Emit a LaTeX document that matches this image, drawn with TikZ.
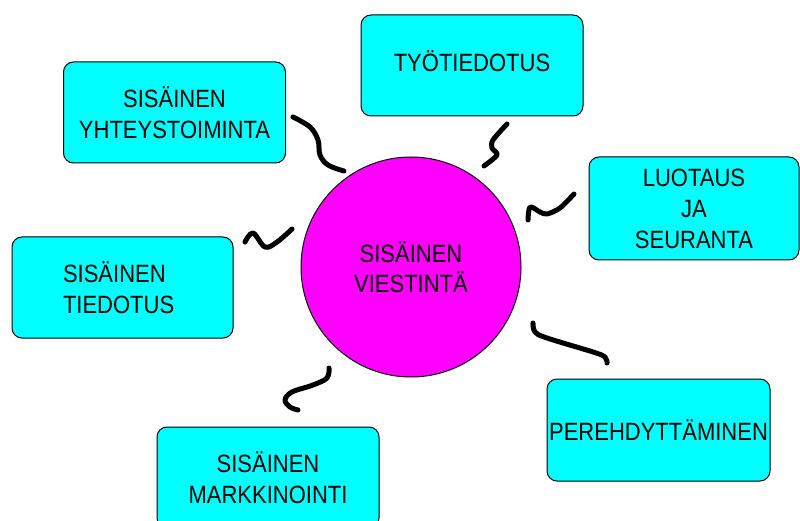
\documentclass[tikz,border=0pt]{standalone}
\usepackage{fontspec}
\setmainfont[FakeStretch=0.88]{Liberation Sans}
\definecolor{boxcyan}{RGB}{0,255,255}
\definecolor{hubmag}{RGB}{255,0,255}
\begin{document}
\begin{tikzpicture}[x=1pt,y=-1pt,
  box/.style={draw=black,line width=1pt,fill=boxcyan,rounded corners=10pt,
    minimum width=222pt,minimum height=101pt,inner sep=0pt,align=center,
    font=\fontsize{25}{31}\selectfont},
  hub/.style={draw=black,line width=1pt,fill=hubmag,circle,minimum size=220pt,
    inner sep=0pt,align=center,font=\fontsize{25}{30}\selectfont},
  squig/.style={line width=5pt,line cap=round,line join=round}]
\clip (0,0) rectangle (800,521);
\fill[white] (0,0) rectangle (800,521);
\node[hub] (c) at (411,267) {SISÄINEN\\VIESTINTÄ};
\node[box] (b1) at (174.5,112.5) {SISÄINEN\\YHTEYSTOIMINTA};
\node[box,text height=18pt,text depth=5pt] (b2) at (472,65.5) {TYÖTIEDOTUS};
\node[box,minimum width=210pt,minimum height=103pt] (b3) at (694,208.5) {LUOTAUS\\JA\\SEURANTA};
\node[box,minimum width=221pt,text width=119pt,align=left] (b4) at (122.5,287.5) {SISÄINEN\\TIEDOTUS};
\node[box,minimum width=223pt,minimum height=102pt] (b5) at (658.5,430) {PEREHDYTTÄMINEN};
\node[box] (b6) at (268,477.5) {SISÄINEN\\MARKKINOINTI};
\draw[squig] plot[smooth,tension=0.6] coordinates {(293,117) (310,127) (318,140) (320,155) (328,165) (344,171)};
\draw[squig] plot[smooth,tension=0.6] coordinates {(245,242) (253,233) (265,247) (277,242) (292,229)};
\draw[squig] plot[smooth,tension=0.5] coordinates {(507,124) (493,140) (492,148) (497,155) (484,166)};
\draw[squig] plot[smooth,tension=0.5] coordinates {(528,220) (530,207) (540,212) (547,214) (560,208) (574,194)};
\draw[squig] plot[smooth,tension=0.6] coordinates {(533,323) (535,332) (547,338) (593,352) (605,357) (607,363)};
\draw[squig] plot[smooth,tension=0.6] coordinates {(329,368) (327,378) (313,385) (292,392) (285,400) (290,407) (298,410)};
\end{tikzpicture}
\end{document}
